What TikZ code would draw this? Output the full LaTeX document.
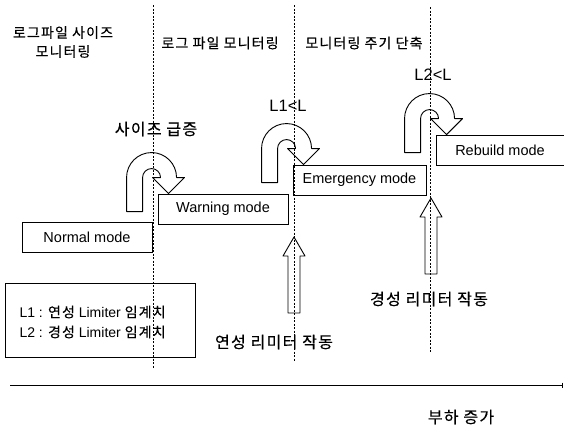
\documentclass[tikz,border=0pt]{standalone}
\usepackage{fontspec}
\setmainfont{Liberation Sans}
\newfontfamily\kr[LetterSpace=8,FakeBold=0.4]{Noto Sans CJK KR}
\usetikzlibrary{arrows.meta,positioning}
\tikzset{
  >=Stealth,
  mode/.style={rectangle, draw, line width=0.9pt, minimum height=30pt, inner sep=0pt, fill=white, font=\fontsize{14.5}{16}\selectfont},
  guide/.style={dash pattern=on 2pt off 1.5pt, line width=0.6pt},
  fat/.style={draw, line width=0.9pt, fill=white, line join=round},
  lbl/.style={font=\kr\fontsize{16}{18}\selectfont},
  head/.style={font=\kr\fontsize{14}{19}\selectfont, align=center},
  cond/.style={font=\fontsize{16.5}{18}\selectfont}
}
% U-turn arrow ending on top of the next mode box
\newcommand{\uturn}[1]{%
  \draw[fat, shift={(#1.north west)}] (-31,18) -- (-31,-16) arc (180:360:25)
    -- (27,-16) -- (11,0) -- (-5,-16) -- (3,-16) arc (360:180:9) -- (-15,18) -- cycle;}
% straight hollow arrow pointing up
\newcommand{\liftarrow}[2]{%
  \draw[fat] (#1-6,#2+76) -- (#1-6,#2+19) -- (#1-11,#2+19) -- (#1,#2)
    -- (#1+11,#2+19) -- (#1+6,#2+19) -- (#1+6,#2+76) -- cycle;}

\begin{document}
\begin{tikzpicture}[x=1pt,y=-1pt]
    \useasboundingbox (0,0) rectangle (564,432);
    \clip (0,0) rectangle (564,432);

    % Headers
    \node[head] (hsize) at (63,42) {로그파일 사이즈\\모니터링};
    \node[head] (hlog) at (220,43) {로그 파일 모니터링};
    \node[head] (hcycle) at (364,43) {모니터링 주기 단축};

    % Modes
    \node[mode, minimum width=130pt] (normal) at (87,237.5) {Normal mode};
    \node[mode, minimum width=130pt] (warning) at (223,209) {Warning mode};
    \node[mode, minimum width=133pt] (emergency) at (359.5,180) {Emergency mode};
    \node[mode, minimum width=128pt] (rebuild) at (500,150) {Rebuild mode};

    % Transitions
    \uturn{warning}
    \uturn{emergency}
    \uturn{rebuild}
    \node[lbl] (surge) at (156,129) {사이즈 급증};
    \node[cond] (l1) at (288,106) {L1<L};
    \node[cond] (l2) at (433,75) {L2<L};

    % Limiters
    \liftarrow{294}{237}
    \liftarrow{431}{198}
    \node[lbl] (soft) at (274,342) {연성 리미터 작동};
    \node[lbl] (hard) at (429,299) {경성 리미터 작동};

    % Legend
    \node[draw, line width=0.9pt, minimum width=190pt, minimum height=74pt] (legend) at (100,320) {};
    \node[anchor=west, align=left, font=\fontsize{14}{20}\selectfont] (lgtext) at (16,322)
      {L1 : {\kr\fontsize{14}{20}\selectfont 연성} Limiter {\kr\fontsize{14}{20}\selectfont 임계치}\\
       L2 : {\kr\fontsize{14}{20}\selectfont 경성} Limiter {\kr\fontsize{14}{20}\selectfont 임계치}};

    % Zone borders
    \draw[guide] (153,5) -- (153,368);
    \draw[guide] (294,5) -- (294,362);
    \draw[guide] (430,7) -- (430,352);

    % Load axis
    \coordinate (a0) at (10,385);
    \coordinate (a1) at (563,385);
    \draw[line width=0.9pt, -{Bar[width=5pt]}] (a0) -- (a1);
    \node[lbl] (load) at (461,417) {부하 증가};

\end{tikzpicture}
\end{document}
